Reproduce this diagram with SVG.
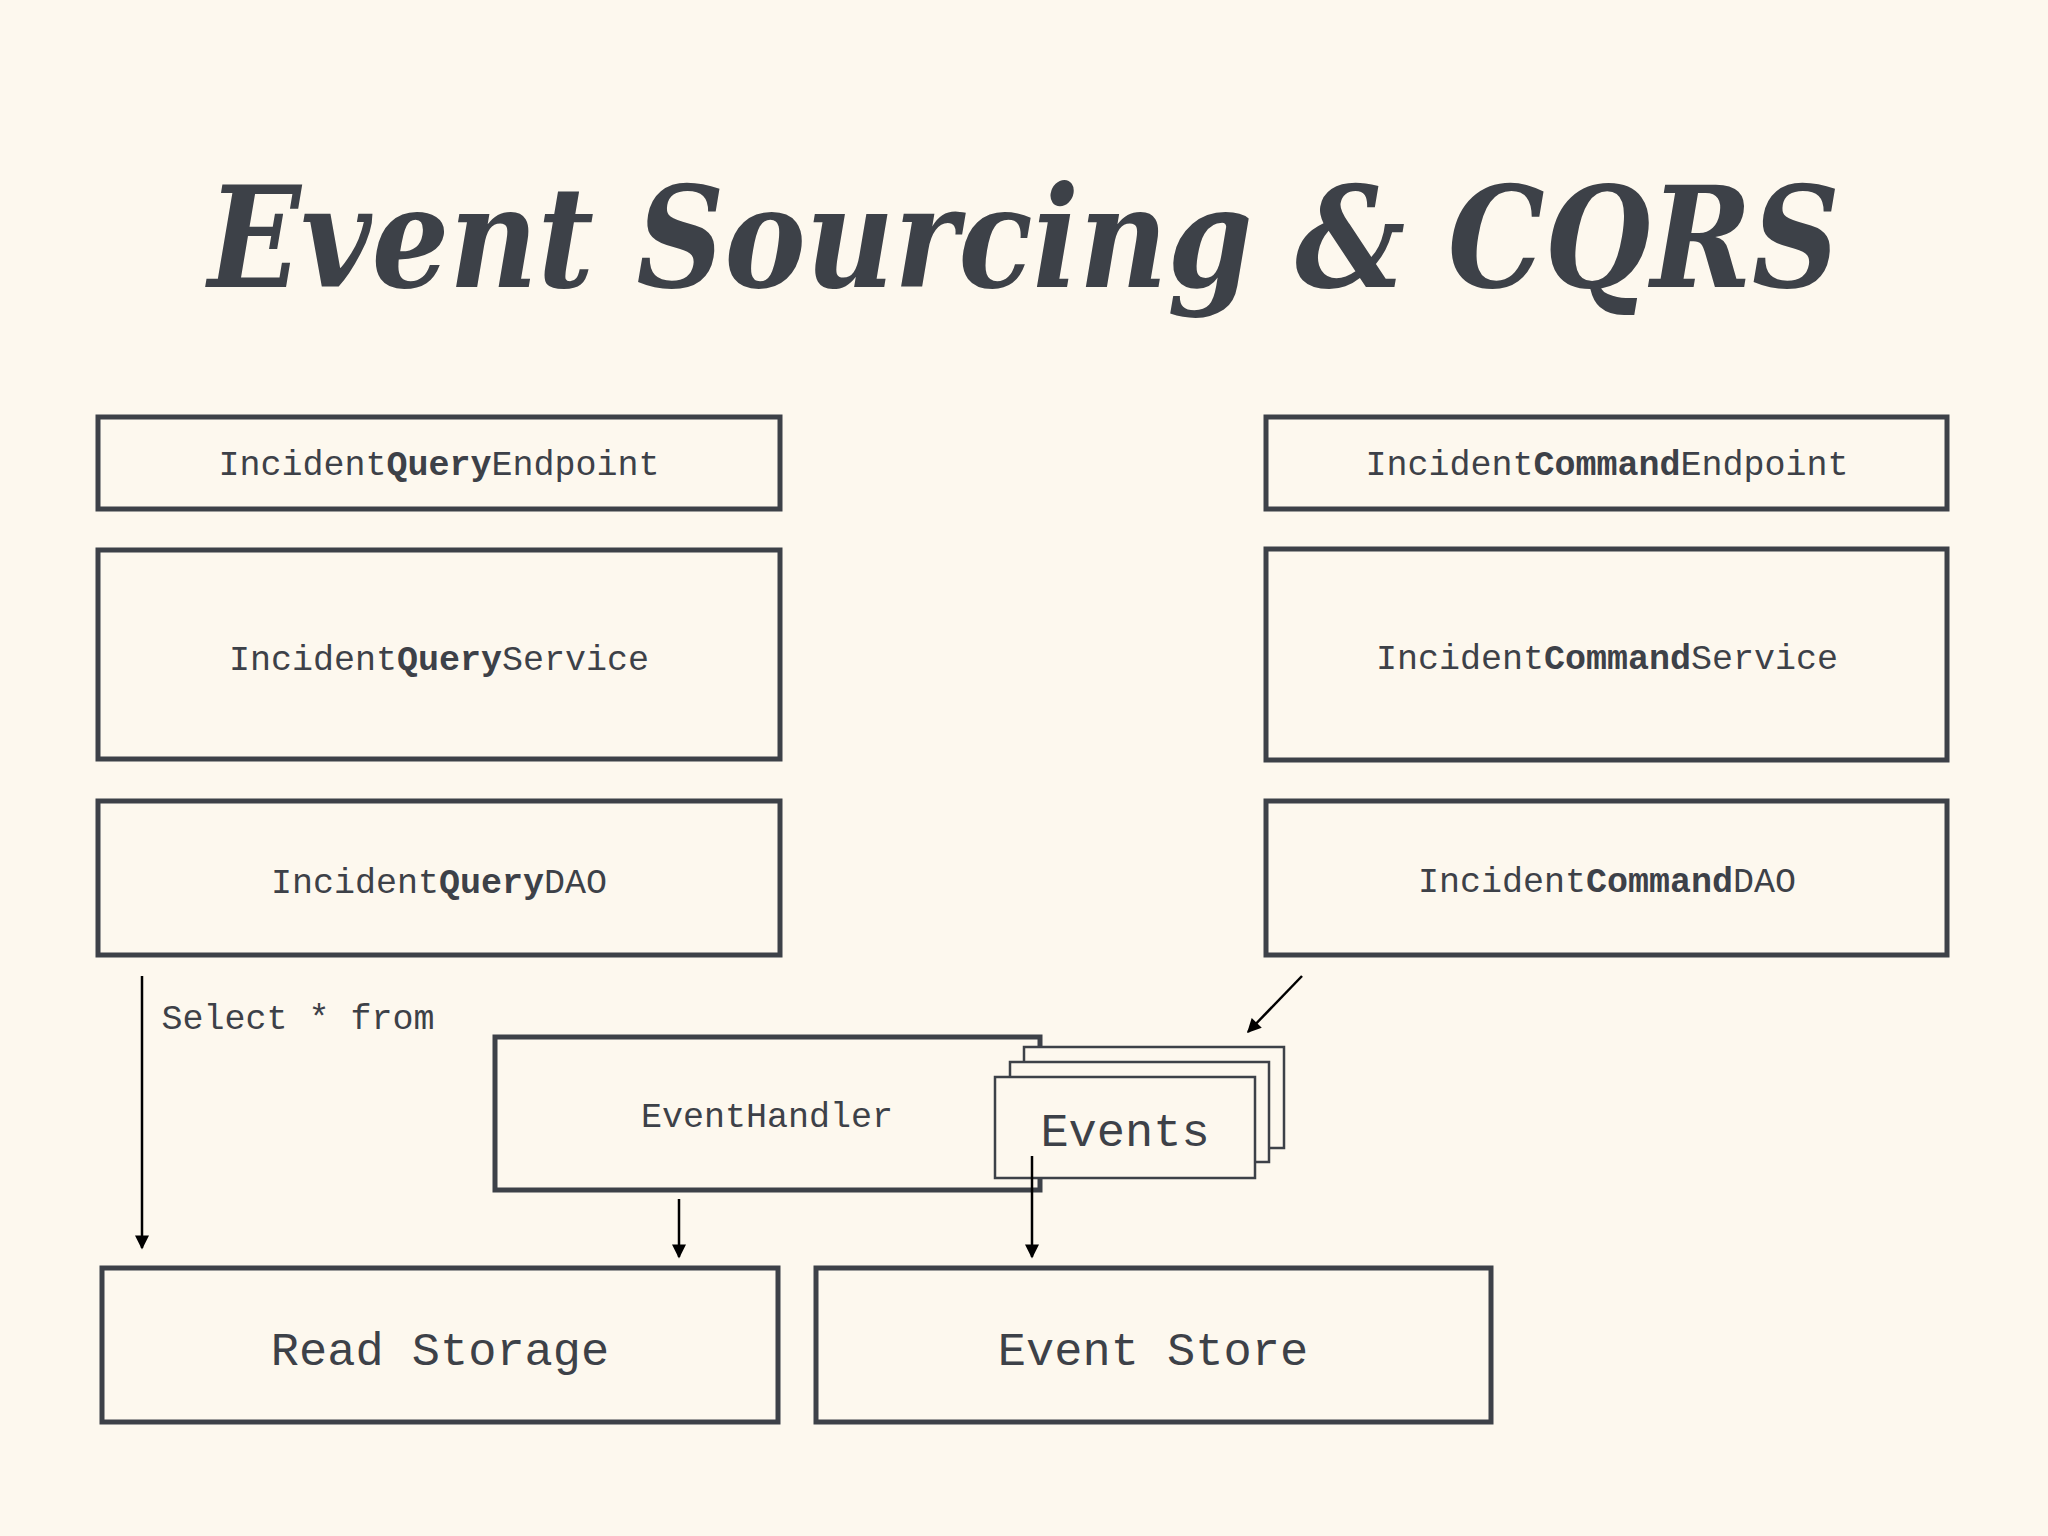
<svg xmlns="http://www.w3.org/2000/svg" width="2048" height="1536" viewBox="0 0 2048 1536">
<defs>
<style>
.b{fill:none;stroke:#3d4148;stroke-width:5}
.s{fill:#fdf8ee;stroke:#3d4148;stroke-width:2.5}
.t{font-family:"Liberation Mono","Courier New",monospace;font-size:35px;fill:#3d4148;text-anchor:middle}
.l{font-size:47px}
.c{stroke:#000;stroke-width:2.5;fill:none;marker-end:url(#a)}
</style>
<marker id="a" viewBox="0 0 10 10" refX="9" refY="5" markerWidth="7" markerHeight="7" orient="auto" markerUnits="userSpaceOnUse" style="overflow:visible"><path d="M0,0L10,5L0,10z" fill="#000" transform="scale(2)translate(-4.5,-2.5)"/></marker>
</defs>
<rect width="2048" height="1536" fill="#fdf8ee"/>
<text x="1024" y="287" text-anchor="middle" font-family="'DejaVu Serif','Liberation Serif',serif" font-weight="bold" font-style="italic" font-size="140" fill="#3d4148" textLength="1632" lengthAdjust="spacingAndGlyphs">Event Sourcing &amp; CQRS</text>
<g id="qe"><rect class="b" x="98" y="417" width="682" height="92"/><text class="t" x="439" y="475">Incident<tspan font-weight="bold">Query</tspan>Endpoint</text></g>
<g id="qs"><rect class="b" x="98" y="550" width="682" height="209"/><text class="t" x="439" y="670">Incident<tspan font-weight="bold">Query</tspan>Service</text></g>
<g id="qd"><rect class="b" x="98" y="801" width="682" height="154"/><text class="t" x="439" y="893">Incident<tspan font-weight="bold">Query</tspan>DAO</text></g>
<g id="ce"><rect class="b" x="1266" y="417" width="681" height="92"/><text class="t" x="1607" y="475">Incident<tspan font-weight="bold">Command</tspan>Endpoint</text></g>
<g id="cs"><rect class="b" x="1266" y="549" width="681" height="211"/><text class="t" x="1607" y="669">Incident<tspan font-weight="bold">Command</tspan>Service</text></g>
<g id="cd"><rect class="b" x="1266" y="801" width="681" height="154"/><text class="t" x="1607" y="892">Incident<tspan font-weight="bold">Command</tspan>DAO</text></g>
<g id="eh"><rect class="b" x="495" y="1037" width="545" height="153"/><text class="t" x="767" y="1127">EventHandler</text></g>
<g id="ev"><rect class="s" x="1024" y="1047" width="260" height="101"/><rect class="s" x="1010" y="1062" width="259" height="100"/><rect class="s" x="995" y="1077" width="260" height="101"/><text class="t l" x="1125" y="1146">Events</text></g>
<g id="rs"><rect class="b" x="102" y="1268" width="676" height="154"/><text class="t l" x="440" y="1365">Read Storage</text></g>
<g id="es"><rect class="b" x="816" y="1268" width="675" height="154"/><text class="t l" x="1153" y="1365">Event Store</text></g>
<g id="conn">
<line class="c" x1="142" y1="976" x2="142" y2="1248"/>
<text class="t" x="298" y="1029">Select * from</text>
<line class="c" x1="679" y1="1199" x2="679" y2="1257"/>
<line class="c" x1="1032" y1="1156" x2="1032" y2="1257"/>
<line class="c" x1="1302" y1="976" x2="1248" y2="1032"/>
</g>
</svg>
